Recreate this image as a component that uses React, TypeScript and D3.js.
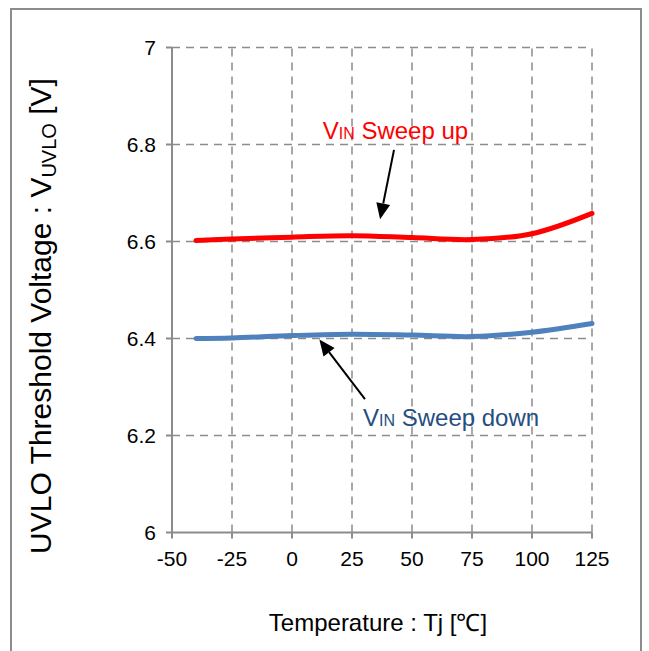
import React from "react";
import * as d3 from "d3";

const temps = [-40, -25, 0, 25, 50, 75, 100, 125];
const sweepUp = [6.602, 6.605, 6.609, 6.612, 6.608, 6.604, 6.616, 6.658];
const sweepDown = [6.400, 6.401, 6.406, 6.409, 6.407, 6.404, 6.413, 6.431];
const xTicks = [-50, -25, 0, 25, 50, 75, 100, 125];
const yTicks = [6, 6.2, 6.4, 6.6, 6.8, 7];

const W = 649, H = 651;
const L = 172, R = 592, T = 47.5, B = 532.5;
const FONT = "'Liberation Sans', Arial, sans-serif";

function arrow(x1: number, y1: number, x2: number, y2: number, len = 16, half = 7) {
  const dx = x2 - x1, dy = y2 - y1;
  const d = Math.hypot(dx, dy);
  const ux = dx / d, uy = dy / d;
  const bx = x2 - ux * len, by = y2 - uy * len;
  const pts = [
    [x2, y2],
    [bx - uy * half, by + ux * half],
    [bx + uy * half, by - ux * half],
  ];
  return { line: [x1, y1, bx, by], head: pts.map((p) => p.join(",")).join(" ") };
}

export default function App() {
  const x = d3.scaleLinear().domain([-50, 125]).range([L, R]);
  const y = d3.scaleLinear().domain([6, 7]).range([B, T]);
  const line = d3
    .line<number>()
    .x((_, i) => x(temps[i]))
    .y((d) => y(d))
    .curve(d3.curveCatmullRom.alpha(0.5));

  const upArrow = arrow(x(42.5), y(6.789), x(36.7), y(6.646));
  const downArrow = arrow(x(30.4), y(6.275), x(11.4), y(6.398));

  return (
    <svg width={W} height={H} style={{ position: "absolute", left: 0, top: 0, background: "#fff" }} fontFamily={FONT}>
      <rect x={11} y={9} width={630} height={700} fill="#fff" stroke="#8c8c8c" strokeWidth={2} />
      {/* grid */}
      {xTicks.slice(1).map((t) => (
        <line key={"gx" + t} x1={x(t)} x2={x(t)} y1={B} y2={T} stroke="#8c8c8c" strokeWidth={1.5} strokeDasharray="8,6" />
      ))}
      {yTicks.slice(1).map((t) => (
        <line key={"gy" + t} x1={L} x2={R} y1={y(t)} y2={y(t)} stroke="#8c8c8c" strokeWidth={1.5} strokeDasharray="8,6" />
      ))}
      {/* axes */}
      <line x1={L} x2={L} y1={T} y2={B} stroke="#8c8c8c" strokeWidth={2} />
      <line x1={L} x2={R} y1={B} y2={B} stroke="#8c8c8c" strokeWidth={2} />
      {yTicks.map((t) => (
        <g key={"yt" + t}>
          <line x1={L - 6} x2={L} y1={y(t)} y2={y(t)} stroke="#8c8c8c" strokeWidth={2} />
          <text x={L - 16} y={y(t)} dy="0.35em" textAnchor="end" fontSize={21} fill="#000">
            {d3.format("")(t)}
          </text>
        </g>
      ))}
      {xTicks.map((t) => (
        <g key={"xt" + t}>
          <line x1={x(t)} x2={x(t)} y1={B} y2={B + 6} stroke="#8c8c8c" strokeWidth={2} />
          <text x={x(t)} y={566} textAnchor="middle" fontSize={21} fill="#000">
            {t}
          </text>
        </g>
      ))}
      {/* series */}
      <path d={line(sweepUp) || ""} fill="none" stroke="#ff0000" strokeWidth={5} strokeLinecap="round" />
      <path d={line(sweepDown) || ""} fill="none" stroke="#4f81bd" strokeWidth={5} strokeLinecap="round" />
      {/* arrows */}
      <line x1={upArrow.line[0]} y1={upArrow.line[1]} x2={upArrow.line[2]} y2={upArrow.line[3]} stroke="#000" strokeWidth={2} />
      <polygon points={upArrow.head} fill="#000" />
      <line x1={downArrow.line[0]} y1={downArrow.line[1]} x2={downArrow.line[2]} y2={downArrow.line[3]} stroke="#000" strokeWidth={2} />
      <polygon points={downArrow.head} fill="#000" />
      {/* annotations */}
      <text x={x(12.8)} y={y(6.811)} fontSize={24} fill="#ff0000">
        V<tspan fontSize={16}>IN</tspan> Sweep up
      </text>
      <text x={x(29.6)} y={y(6.22)} fontSize={24} fill="#254e7f">
        V<tspan fontSize={16}>IN</tspan> Sweep down
      </text>
      {/* axis titles */}
      <text x={378} y={631} textAnchor="middle" fontSize={24} fill="#000">
        Temperature : Tj [℃]
      </text>
      <text transform={`translate(51, 316) rotate(-90)`} textAnchor="middle" fontSize={30} fill="#000">
        UVLO Threshold Voltage : V<tspan fontSize={20} dy={5}>UVLO</tspan>
        <tspan dy={-5}> [V]</tspan>
      </text>
    </svg>
  );
}
